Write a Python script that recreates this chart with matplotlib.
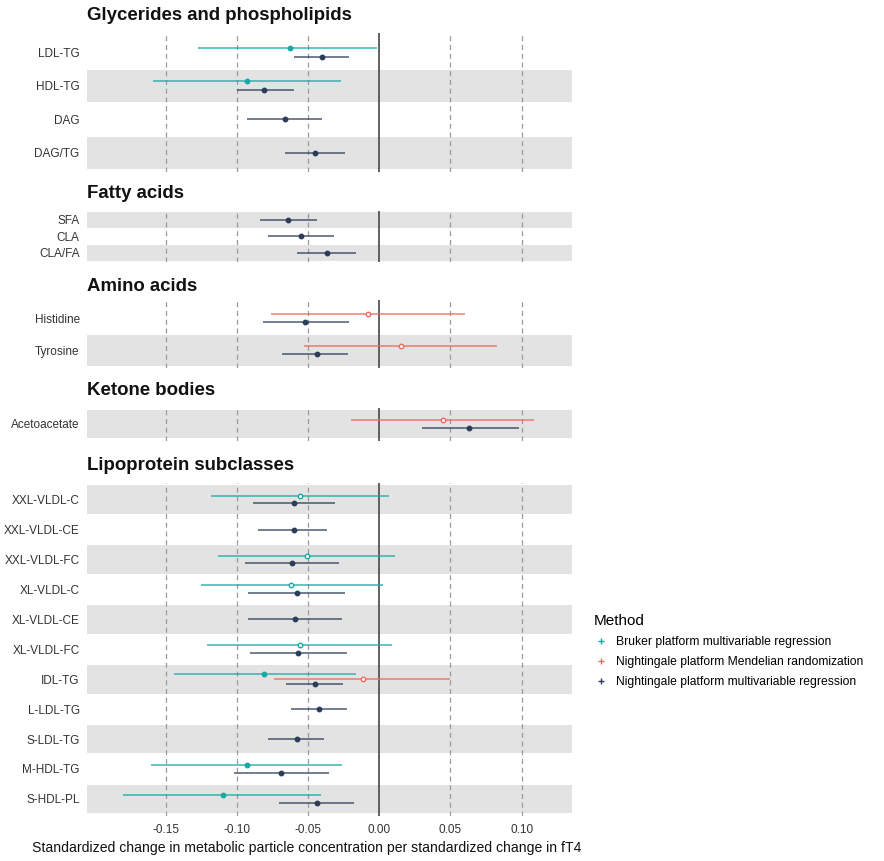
import matplotlib
matplotlib.use("Agg")
import matplotlib.pyplot as plt
from matplotlib.lines import Line2D

plt.rcParams['font.family'] = ['Liberation Sans', 'DejaVu Sans']

# panels (top to bottom) and their rows
panel_titles = ["Glycerides and phospholipids", "Fatty acids", "Amino acids",
                "Ketone bodies", "Lipoprotein subclasses"]
panel_rows = [
    ["LDL-TG", "HDL-TG", "DAG", "DAG/TG"],
    ["SFA", "CLA", "CLA/FA"],
    ["Histidine", "Tyrosine"],
    ["Acetoacetate"],
    ["XXL-VLDL-C", "XXL-VLDL-CE", "XXL-VLDL-FC", "XL-VLDL-C", "XL-VLDL-CE",
     "XL-VLDL-FC", "IDL-TG", "L-LDL-TG", "S-LDL-TG", "M-HDL-TG", "S-HDL-PL"],
]

methods = ["Bruker platform multivariable regression",
           "Nightingale platform Mendelian randomization",
           "Nightingale platform multivariable regression"]
colors = ["#16a9a6", "#f0675f", "#2c3d5a"]

# Bruker multivariable regression
bruker_names = ["LDL-TG", "HDL-TG", "XXL-VLDL-C", "XXL-VLDL-FC", "XL-VLDL-C",
                "XL-VLDL-FC", "IDL-TG", "M-HDL-TG", "S-HDL-PL"]
bruker_est = [-0.063, -0.093, -0.056, -0.051, -0.062, -0.056, -0.081, -0.093, -0.110]
bruker_lo = [-0.127, -0.159, -0.118, -0.113, -0.125, -0.121, -0.144, -0.160, -0.180]
bruker_hi = [-0.0015, -0.027, 0.0065, 0.011, 0.0025, 0.009, -0.0165, -0.026, -0.041]

# Nightingale Mendelian randomization
mr_names = ["Histidine", "Tyrosine", "Acetoacetate", "IDL-TG"]
mr_est = [-0.008, 0.015, 0.0445, -0.0115]
mr_lo = [-0.076, -0.053, -0.020, -0.074]
mr_hi = [0.060, 0.083, 0.109, 0.050]

# Nightingale multivariable regression
mv_names = ["LDL-TG", "HDL-TG", "DAG", "DAG/TG", "SFA", "CLA", "CLA/FA",
            "Histidine", "Tyrosine", "Acetoacetate",
            "XXL-VLDL-C", "XXL-VLDL-CE", "XXL-VLDL-FC", "XL-VLDL-C", "XL-VLDL-CE",
            "XL-VLDL-FC", "IDL-TG", "L-LDL-TG", "S-LDL-TG", "M-HDL-TG", "S-HDL-PL"]
mv_est = [-0.040, -0.081, -0.066, -0.045, -0.064, -0.055, -0.037,
          -0.052, -0.044, 0.063,
          -0.060, -0.060, -0.061, -0.058, -0.059, -0.057, -0.045, -0.042, -0.058, -0.069, -0.044]
mv_lo = [-0.060, -0.100, -0.093, -0.066, -0.084, -0.078, -0.058,
         -0.082, -0.068, 0.030,
         -0.089, -0.085, -0.094, -0.092, -0.092, -0.091, -0.0655, -0.062, -0.078, -0.102, -0.0706]
mv_hi = [-0.021, -0.060, -0.040, -0.024, -0.044, -0.032, -0.016,
         -0.021, -0.022, 0.098,
         -0.031, -0.037, -0.028, -0.024, -0.0265, -0.0225, -0.0257, -0.023, -0.0387, -0.035, -0.018]

xticks = [-0.15, -0.10, -0.05, 0.00, 0.05, 0.10]
xtick_labels = ["-0.15", "-0.10", "-0.05", "0.00", "0.05", "0.10"]

series = [
    (bruker_names, bruker_est, bruker_lo, bruker_hi),
    (mr_names, mr_est, mr_lo, mr_hi),
    (mv_names, mv_est, mv_lo, mv_hi),
]

W, H = 884, 861
fig = plt.figure(figsize=(W / 100, H / 100), dpi=100)

def px_axes(left, top, right, bottom):
    return fig.add_axes([left / W, 1 - bottom / H, (right - left) / W, (bottom - top) / H])

# panel boxes in pixels: (top, bottom)
boxes = [(33, 172), (210.5, 262), (300, 368.5), (407.5, 440.5), (482.5, 816)]
title_y = [16, 193, 287, 390, 466]
x_left, x_right = 87, 572
pad = 0.07
dodge = 0.52

for p, (title, rows) in enumerate(zip(panel_titles, panel_rows)):
    top, bottom = boxes[p]
    ax = px_axes(x_left, top, x_right, bottom)
    n = len(rows)
    pos = {name: n - i for i, name in enumerate(rows)}

    for k in range(1, n + 1, 2):
        ax.axhspan(k - 0.48, k + 0.48, color="#e3e3e3", lw=0, zorder=0)
    for t in xticks:
        if t == 0:
            ax.axvline(t, color="#555555", lw=1.3, zorder=2)
        else:
            ax.axvline(t, color="#9a9a9a", lw=0.9, dashes=(4, 3), zorder=1)

    # which methods are present per row (for dodging)
    present = {name: [m for m in range(3) if name in series[m][0]] for name in rows}
    for m, (names, est, lo, hi) in enumerate(series):
        for name, e, l, h in zip(names, est, lo, hi):
            if name not in pos:
                continue
            grp = present[name]
            k = len(grp)
            off = (grp.index(m) - (k - 1) / 2) * dodge / k
            y = pos[name] - off
            ax.plot([l, h], [y, y], color=colors[m], lw=1.1, alpha=0.85, zorder=3,
                    solid_capstyle="butt")
            sig = h < 0 or l > 0
            ax.plot([e], [y], marker="o", ms=3.2, mew=1.0, color=colors[m],
                    mfc=colors[m] if sig else "white", zorder=4)

    ax.set_xlim(-0.2053, 0.1354)
    ax.set_ylim(0.5 - pad, n + 0.5 + pad)
    ax.set_yticks([n - i for i in range(n)])
    ax.set_yticklabels(rows)
    ax.set_xticks(xticks)
    if p == len(panel_titles) - 1:
        ax.set_xticklabels(xtick_labels)
    else:
        ax.set_xticklabels([])
    ax.tick_params(length=0, labelsize=8.5, colors="#333333", pad=6)
    ax.tick_params(axis="y", pad=5.3)
    for s in ax.spines.values():
        s.set_visible(False)
    ax.set_facecolor("none")

    fig.text(x_left / W, 1 - title_y[p] / H, title, fontsize=13.4, fontweight="bold",
             color="#111111", ha="left", va="center")

fig.text(306.5 / W, 1 - 848 / H,
         "Standardized change in metabolic particle concentration per standardized change in fT4",
         fontsize=10.1, color="#111111", ha="center", va="center")

handles = [Line2D([], [], marker="+", ms=4, mew=1.0, ls="none", color=c) for c in colors]
leg = fig.legend(handles, methods, title="Method", loc="upper left",
                 bbox_to_anchor=(583 / W, 1 - 603 / H), frameon=False,
                 fontsize=8.7, title_fontsize=11, handlelength=1.2,
                 handletextpad=0.6, labelspacing=0.66)
leg._legend_box.align = "left"

fig.savefig("out.png", dpi=100)
